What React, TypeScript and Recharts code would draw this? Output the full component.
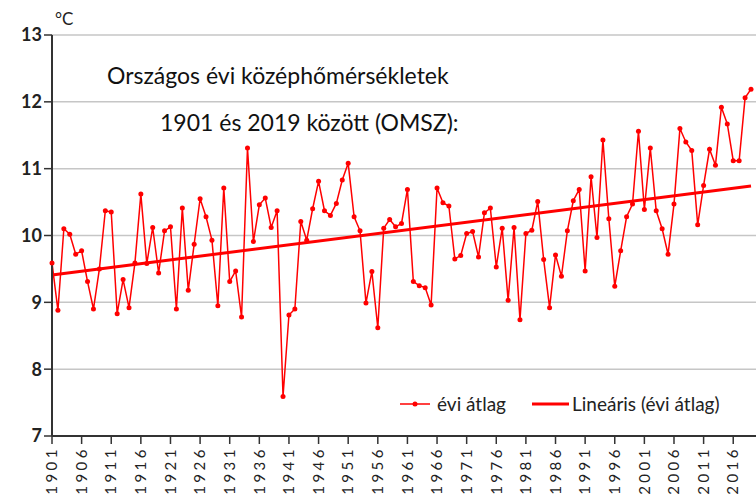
import React from 'react';
import {
  LineChart,
  Line,
  XAxis,
  YAxis,
  CartesianGrid,
} from 'recharts';

// évek 1901..2019
const years = Array.from({ length: 119 }, (_, i) => String(1901 + i));

// országos évi középhőmérséklet (°C), leolvasva
const annualMean = [
  9.59, 8.88, 10.1, 10.02, 9.72, 9.77, 9.31, 8.9, 9.5, 10.37,
  10.35, 8.83, 9.34, 8.92, 9.59, 10.62, 9.58, 10.12, 9.44, 10.07,
  10.13, 8.9, 10.41, 9.18, 9.87, 10.55, 10.28, 9.93, 8.95, 10.71,
  9.31, 9.47, 8.78, 11.31, 9.91, 10.46, 10.56, 10.12, 10.37, 7.59,
  8.81, 8.9, 10.21, 9.93, 10.4, 10.81, 10.37, 10.3, 10.48, 10.83,
  11.08, 10.28, 10.07, 8.99, 9.46, 8.62, 10.11, 10.24, 10.13, 10.18,
  10.69, 9.31, 9.25, 9.22, 8.96, 10.71, 10.49, 10.44, 9.65, 9.7,
  10.03, 10.06, 9.68, 10.34, 10.41, 9.53, 10.11, 9.03, 10.12, 8.74,
  10.03, 10.08, 10.51, 9.64, 8.92, 9.71, 9.39, 10.07, 10.52, 10.69,
  9.47, 10.88, 9.97, 11.43, 10.25, 9.24, 9.77, 10.28, 10.47, 11.56,
  10.39, 11.31, 10.37, 10.1, 9.72, 10.47, 11.6, 11.4, 11.27, 10.16,
  10.75, 11.29, 11.05, 11.92, 11.67, 11.12, 11.12, 12.06, 12.19,
];

// lineáris trend végpontjai (1901, 2019)
const trendEnds = [9.41, 10.74];

const yTicks = [7, 8, 9, 10, 11, 12, 13];

const data = years.map((year, i) => ({
  year,
  mean: annualMean[i],
  trend: i === 0 ? trendEnds[0] : i === years.length - 1 ? trendEnds[1] : null,
}));

const FONT = 'Lato, "DejaVu Sans", sans-serif';
const RED = '#ff0000';

const YearTick = ({ x, y, payload }: any) => (
  <text
    x={x}
    y={y}
    dy="0.35em"
    transform={`rotate(-90 ${x} ${y})`}
    textAnchor="end"
    fontSize={15}
    letterSpacing={3.5}
    fontFamily={FONT}
    fill="#222"
  >
    {payload.value}
  </text>
);

const LegendBox = () => (
  <div
    style={{
      position: 'absolute',
      left: 400,
      top: 392,
      display: 'flex',
      alignItems: 'center',
      fontFamily: FONT,
      fontSize: 19,
      lineHeight: '24px',
      color: '#222',
      whiteSpace: 'nowrap',
    }}
  >
    <svg width={30} height={10} style={{ marginRight: 7 }}>
      <line x1={0} y1={5} x2={30} y2={5} stroke={RED} strokeWidth={1.5} />
      <circle cx={15} cy={5} r={2.5} fill={RED} />
    </svg>
    <span>évi átlag</span>
    <svg width={37} height={10} style={{ marginLeft: 26, marginRight: 3 }}>
      <line x1={0} y1={5} x2={37} y2={5} stroke={RED} strokeWidth={3} />
    </svg>
    <span>Lineáris (évi átlag)</span>
  </div>
);

export default function App() {
  return (
    <div style={{ position: 'absolute', left: 0, top: 0, width: 756, height: 494, background: '#fff', overflow: 'hidden' }}>
      <LineChart
        width={756}
        height={494}
        data={data}
        margin={{ top: 35, right: 0, bottom: 0, left: 0 }}
      >
        <CartesianGrid vertical={false} stroke="#c6c6c6" strokeWidth={1.5} />
        <XAxis
          dataKey="year"
          interval={4}
          height={58}
          padding={{ left: 0, right: 5 }}
          tickSize={8}
          tick={<YearTick />}
          axisLine={{ stroke: '#333', strokeWidth: 2 }}
          tickLine={{ stroke: '#333', strokeWidth: 1.5 }}
        />
        <YAxis
          domain={[7, 13]}
          ticks={yTicks}
          width={52}
          tickSize={8}
          tick={{ fontSize: 18, fontFamily: FONT, fill: '#222', fontWeight: 'bold' }}
          axisLine={{ stroke: '#333', strokeWidth: 2 }}
          tickLine={{ stroke: '#333', strokeWidth: 1.5 }}
        />
        <Line
          type="linear"
          dataKey="mean"
          name="évi átlag"
          stroke={RED}
          strokeWidth={1.5}
          dot={{ r: 2.5, fill: RED, stroke: RED, strokeWidth: 0 }}
          activeDot={false}
          isAnimationActive={false}
        />
        <Line
          type="linear"
          dataKey="trend"
          name="Lineáris (évi átlag)"
          stroke={RED}
          strokeWidth={3}
          dot={false}
          connectNulls
          isAnimationActive={false}
        />
      </LineChart>
      <LegendBox />
      <div style={{ position: 'absolute', left: 55, top: 8, fontFamily: FONT, fontSize: 17, color: '#222' }}>
        °C
      </div>
      <div style={{ position: 'absolute', left: 107, top: 60, fontFamily: FONT, fontSize: 23, lineHeight: '30px', color: '#111', whiteSpace: 'nowrap' }}>
        Országos évi középhőmérsékletek
      </div>
      <div style={{ position: 'absolute', left: 160, top: 107, fontFamily: FONT, fontSize: 23, lineHeight: '30px', color: '#111', whiteSpace: 'nowrap' }}>
        1901 és 2019 között (OMSZ):
      </div>
    </div>
  );
}
